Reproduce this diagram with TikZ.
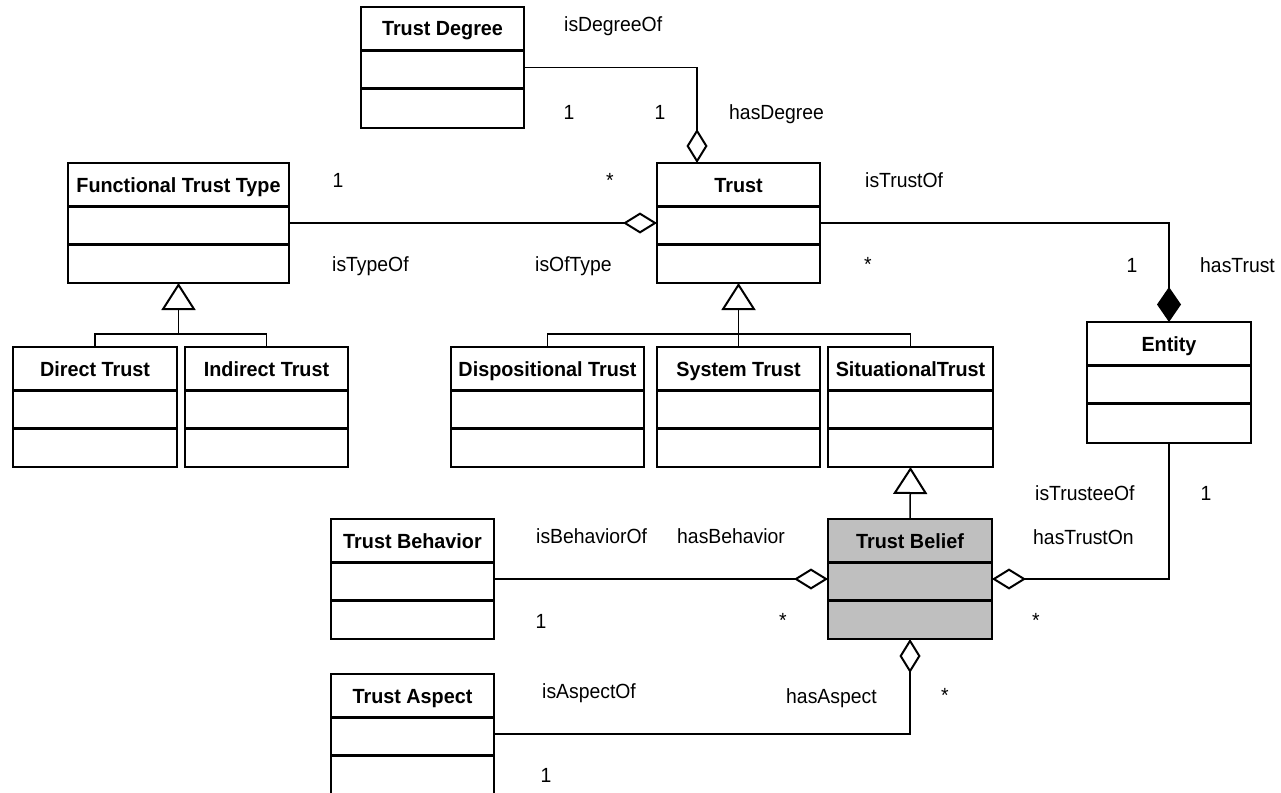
\documentclass[tikz,border=0pt]{standalone}
\usepackage{fontspec}
\setmainfont[FakeStretch=0.945, BoldFeatures={FakeStretch=0.965}]{Liberation Sans}
\usetikzlibrary{arrows.meta}

% A UML class box: name, fill, left, top, right, bottom, title
\newcommand\umlclass[7]{%
  \node[classbox, fill=#2, minimum width={(#5)-(#3)}, minimum height={(#6)-(#4)}] (#1) at (#3,#4) {};
  \draw[classrule] ([yshift=-43.5pt]#1.north west) -- ([yshift=-43.5pt]#1.north east);
  \draw[classrule] ([yshift=-81.5pt]#1.north west) -- ([yshift=-81.5pt]#1.north east);
  \node[classname] at ([yshift=-29pt]#1.north) {#7};
}

\begin{document}
\begin{tikzpicture}[x=1pt, y=-1pt,
  classbox/.style={draw, line width=2.2pt, inner sep=0pt, outer sep=0pt, anchor=north west},
  classrule/.style={line width=2.2pt},
  classname/.style={font=\fontsize{20.5}{22}\selectfont\bfseries, anchor=base, inner sep=0pt},
  lbl/.style={font=\fontsize{20.5}{22}\selectfont, anchor=base west, inner sep=0pt},
  multy/.style={font=\fontsize{20.5}{22}\selectfont, anchor=base, inner sep=0pt},
  conn/.style={line width=1.5pt},
  aggr/.style={conn, -{Diamond[open, length=34pt, width=21pt, line width=2pt]}},
  comp/.style={conn, -{Diamond[length=35pt, width=24pt]}},
  gen/.style={conn, -{Triangle[open, length=27pt, width=34pt, line width=2pt]}},
]
\fill[white] (0,0) rectangle (1281,792);
\useasboundingbox (0,0) rectangle (1281,792);

% classes
\umlclass{tdeg}{white}{361}{7}{524}{128}{Trust Degree}
\umlclass{ftt}{white}{68}{163}{289}{283}{Functional Trust Type}
\umlclass{trust}{white}{657}{163}{820}{283}{Trust}
\umlclass{direct}{white}{13}{347}{177}{467}{Direct Trust}
\umlclass{indirect}{white}{185}{347}{348}{467}{Indirect Trust}
\umlclass{disp}{white}{451}{347}{644}{467}{Dispositional Trust}
\umlclass{sys}{white}{657}{347}{820}{467}{System Trust}
\umlclass{sit}{white}{828}{347}{993}{467}{SituationalTrust}
\umlclass{entity}{white}{1087}{322}{1251}{443}{Entity}
\umlclass{behavior}{white}{331}{519}{494}{639}{Trust Behavior}
\umlclass{belief}{black!25}{828}{519}{992}{639}{Trust Belief}
\umlclass{aspect}{white}{331}{674}{494}{794}{Trust Aspect}

% generalisations
\coordinate (fttjoin) at ([yshift=-51pt]ftt.south);
\draw[conn] (direct.north) |- (fttjoin) -| (indirect.north);
\draw[gen] (fttjoin) -- (ftt.south);

\coordinate (trjoin) at ([yshift=-51pt]trust.south);
\draw[conn] (disp.north) |- (trjoin) -| (sit.north);
\draw[conn] (trjoin) -- (sys.north);
\draw[gen] (trjoin) -- (trust.south);

\draw[gen] (belief.north) -- (sit.south);

% associations
\draw[aggr] (tdeg.east) -| ([xshift=-41.5pt]trust.north);
\draw[aggr] (ftt.east) -- (trust.west);
\draw[comp] (trust.east) -| (entity.north);
\draw[aggr] (behavior.east) -- (belief.west);
\draw[aggr] (entity.south) |- (belief.east);
\draw[aggr] (aspect.east) -| (belief.south);

% role names
\node[lbl] at (564,32) {isDegreeOf};
\node[lbl] at (729,119) {hasDegree};
\node[lbl] at (332,271) {isTypeOf};
\node[lbl] at (535,271) {isOfType};
\node[lbl] at (865,187) {isTrustOf};
\node[lbl] at (1200,272) {hasTrust};
\node[lbl] at (536,543) {isBehaviorOf};
\node[lbl] at (677,543) {hasBehavior};
\node[lbl] at (1035,500) {isTrusteeOf};
\node[lbl] at (1033,544) {hasTrustOn};
\node[lbl] at (542,698) {isAspectOf};
\node[lbl] at (786,703) {hasAspect};

% multiplicities
\node[multy] at (569,119) {1};
\node[multy] at (660,119) {1};
\node[multy] at (338,187) {1};
\node[multy] at (610,187) {*};
\node[multy] at (868,271) {*};
\node[multy] at (1132,272) {1};
\node[multy] at (1206,500) {1};
\node[multy] at (541,628) {1};
\node[multy] at (783,627) {*};
\node[multy] at (1036,627) {*};
\node[multy] at (945,702) {*};
\node[multy] at (546,782) {1};
\end{tikzpicture}
\end{document}
